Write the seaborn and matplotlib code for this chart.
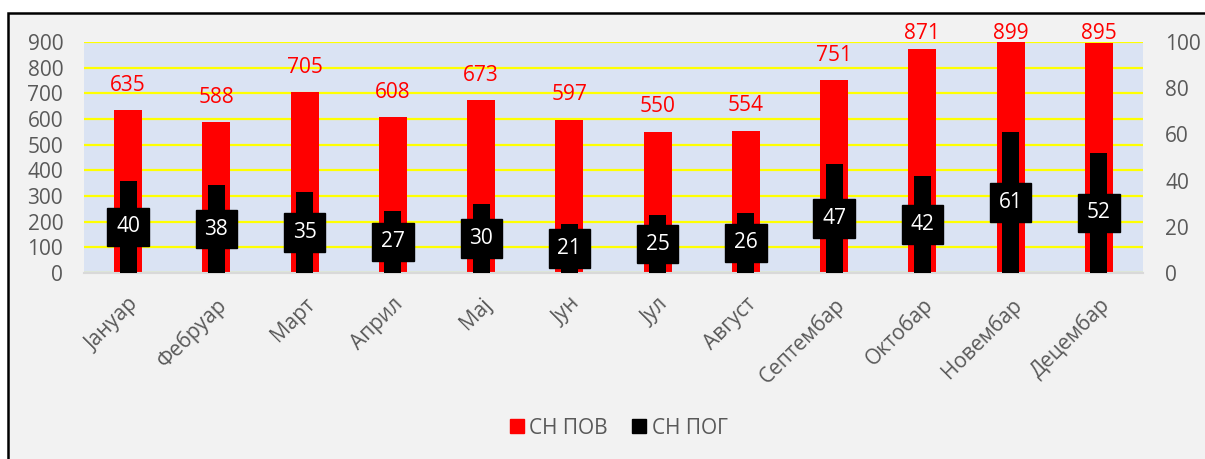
import matplotlib
matplotlib.use('Agg')
import matplotlib.pyplot as plt
import seaborn as sns
from matplotlib.patches import Rectangle
from matplotlib.lines import Line2D

months = ['Јануар', 'Фебруар', 'Март', 'Април', 'Мај', 'Јун', 'Јул',
          'Август', 'Септембар', 'Октобар', 'Новембар', 'Децембар']
sn_pov = [635, 588, 705, 608, 673, 597, 550, 554, 751, 871, 899, 895]
sn_pog = [40, 38, 35, 27, 30, 21, 25, 26, 47, 42, 61, 52]
left_ticks = list(range(0, 1000, 100))
right_ticks = list(range(0, 120, 20))

sns.set_theme(style='white')
plt.rcParams['font.family'] = ['Open Sans', 'DejaVu Sans']
grey = '#595959'
fs = 15

fig = plt.figure(figsize=(12.05, 4.59), dpi=100)
fig.patch.set_facecolor('white')
# chart frame
fig.patches.append(Rectangle((8 / 1205, -0.05), 1.0, 1 - 13 / 459 + 0.05,
                             transform=fig.transFigure, facecolor='#F2F2F2',
                             edgecolor='black', linewidth=1.8, zorder=-1))

ax = fig.add_axes([84 / 1205, 1 - 273 / 459, (1143 - 84) / 1205, (273 - 42) / 459])
ax.set_facecolor('#DAE3F3')

sns.barplot(x=months, y=sn_pov, ax=ax, color='red', saturation=1, width=0.32,
            edgecolor='red', linewidth=0, zorder=2)
ax.set_ylim(0, 900)
ax.set_yticks(left_ticks)
ax.yaxis.grid(True, color='#FFFF00', linewidth=1.6)
ax.set_axisbelow(True)
for s in ['top', 'left', 'right']:
    ax.spines[s].set_visible(False)
ax.spines['bottom'].set_color('#D9D9D9')
ax.spines['bottom'].set_linewidth(1.5)
ax.tick_params(axis='both', colors=grey, labelsize=fs, length=0)
ax.tick_params(axis='y', pad=15)
ax.set_xticks(range(len(months)))
ax.set_xticklabels(months, rotation=45, ha='right', rotation_mode='anchor')
ax.tick_params(axis='x', pad=15)
ax.set_xlim(-0.5, len(months) - 0.5)

# red value labels above bars, held just above the plot top like Excel does
for i, v in enumerate(sn_pov):
    ax.text(i, min(v + 97, 935), str(v), ha='center', va='center', color='red',
            fontsize=fs, clip_on=False, zorder=5)

ax2 = ax.twinx()
sns.barplot(x=months, y=sn_pog, ax=ax2, color='black', saturation=1, width=0.19,
            edgecolor='black', linewidth=0, zorder=2)
ax2.set_ylim(0, 100)
ax2.set_yticks(right_ticks)
ax2.patch.set_visible(False)
for s in ax2.spines.values():
    s.set_visible(False)
ax2.tick_params(axis='y', colors=grey, labelsize=fs, length=0, pad=16)
ax2.set_xlim(-0.5, len(months) - 0.5)
for i, v in enumerate(sn_pog):
    ax2.text(i, v / 2, str(v), ha='center', va='center', color='white', fontsize=fs,
             bbox=dict(facecolor='black', edgecolor='black', boxstyle='square,pad=0.42'),
             zorder=5)

handles = [Line2D([], [], marker='s', linestyle='', markersize=10, color='red'),
           Line2D([], [], marker='s', linestyle='', markersize=10, color='black')]
fig.legend(handles, ['СН ПОВ', 'СН ПОГ'], loc='center', bbox_to_anchor=(0.512, 1 - 428 / 459),
           ncol=2, frameon=False, fontsize=fs, labelcolor=grey, handletextpad=0.1,
           columnspacing=1.0, handlelength=1.0)

fig.savefig('out.png', dpi=100)
